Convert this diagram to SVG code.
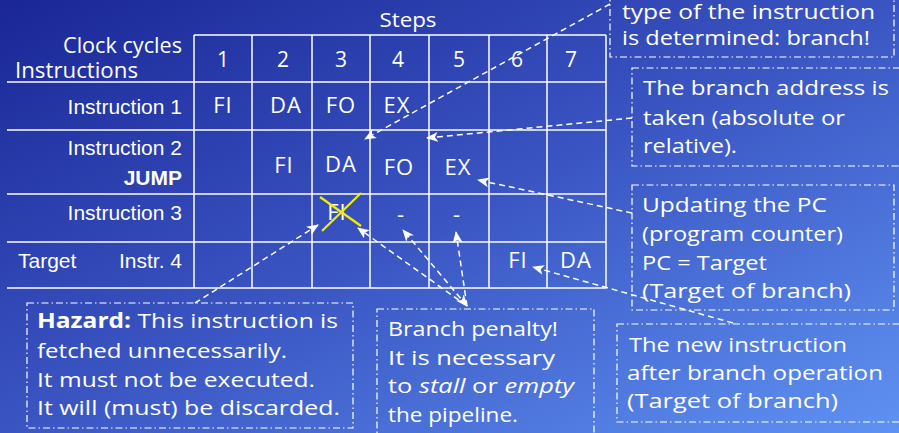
<svg xmlns="http://www.w3.org/2000/svg" width="899" height="433" viewBox="0 0 899 433">
  <defs>
    <linearGradient id="bg" x1="0" y1="0" x2="1" y2="1">
      <stop offset="0" stop-color="#1a2696"/>
      <stop offset="0.5" stop-color="#3a55c2"/>
      <stop offset="1" stop-color="#5f92f2"/>
    </linearGradient>
    <marker id="arrow" viewBox="0 0 12 10" markerUnits="userSpaceOnUse" markerWidth="12" markerHeight="10" refX="11" refY="5" orient="auto-start-reverse">
      <path d="M0,0 L12,5 L0,10 L3,5 z" fill="#ffffff"/>
    </marker>
    <style>
      .grid { stroke: #ffffff; stroke-width: 1.5; fill: none; }
      .hand { font-family: "Comic Sans MS", "Open Sans", sans-serif; fill: #ffffff; }
      .cell { font-size: 22px; text-anchor: middle; letter-spacing: 1px; }
      .num { font-size: 21px; text-anchor: middle; }
      .label { font-family: "Liberation Sans", Arial, sans-serif; font-size: 21px; fill: #ffffff; }
      .right { text-anchor: end; }
      .note { font-size: 20.5px; }
      .box { fill: none; stroke: #ffffff; stroke-width: 1.2; stroke-dasharray: 7 3 1.5 3; }
      .link { stroke: #ffffff; stroke-width: 1.5; stroke-dasharray: 6 4; fill: none; }
      .cross { stroke: #f2ee00; stroke-width: 2.2; }
    </style>
  </defs>

  <rect width="899" height="433" fill="url(#bg)"/>

  <!-- pipeline table -->
  <g id="table">
    <g class="grid">
      <line x1="194" y1="35" x2="606" y2="35"/>
      <line x1="7" y1="82" x2="606" y2="82"/>
      <line x1="7" y1="130" x2="606" y2="130"/>
      <line x1="7" y1="194" x2="606" y2="194"/>
      <line x1="7" y1="242" x2="606" y2="242"/>
      <line x1="7" y1="288" x2="606" y2="288"/>
      <line x1="194" y1="35" x2="194" y2="288"/>
      <line x1="252" y1="35" x2="252" y2="288"/>
      <line x1="312" y1="35" x2="312" y2="288"/>
      <line x1="370" y1="35" x2="370" y2="288"/>
      <line x1="429" y1="35" x2="429" y2="288"/>
      <line x1="489" y1="35" x2="489" y2="288"/>
      <line x1="547" y1="35" x2="547" y2="288"/>
      <line x1="606" y1="35" x2="606" y2="288"/>
    </g>

    <text class="hand" x="408" y="27" font-size="20" text-anchor="middle" textLength="57" lengthAdjust="spacingAndGlyphs">Steps</text>
    <text class="hand" x="182" y="53" font-size="21" text-anchor="end" textLength="119" lengthAdjust="spacingAndGlyphs">Clock cycles</text>
    <text class="hand" x="15" y="78" font-size="21" textLength="123" lengthAdjust="spacingAndGlyphs">Instructions</text>

    <g class="hand num">
      <text x="223" y="67">1</text>
      <text x="283" y="67">2</text>
      <text x="341" y="67">3</text>
      <text x="398" y="67">4</text>
      <text x="459" y="67">5</text>
      <text x="517" y="67">6</text>
      <text x="571" y="67">7</text>
    </g>

    <text class="label right" x="182" y="114">Instruction 1</text>
    <text class="label right" x="182" y="155">Instruction 2</text>
    <text class="label right" x="182" y="185" font-weight="bold" font-size="18">JUMP</text>
    <text class="label right" x="182" y="220">Instruction 3</text>
    <text class="label" x="18" y="268">Target</text>
    <text class="label right" x="182" y="268">Instr. 4</text>

    <!-- stage codes per cycle -->
    <g class="hand cell">
      <text x="223" y="113">FI</text>
      <text x="286" y="113">DA</text>
      <text x="341" y="113">FO</text>
      <text x="397" y="113">EX</text>

      <text x="284" y="173">FI</text>
      <text x="341" y="172">DA</text>
      <text x="399" y="175">FO</text>
      <text x="458" y="175">EX</text>

      <text x="337" y="220">FI</text>
      <text x="401" y="222">-</text>
      <text x="457" y="222">-</text>

      <text x="518" y="268">FI</text>
      <text x="576" y="268">DA</text>
    </g>
    <!-- discarded fetch -->
    <line class="cross" x1="320" y1="197" x2="361" y2="226"/>
    <line class="cross" x1="322" y1="231" x2="361" y2="193"/>
  </g>

  <!-- connectors -->
  <g id="connectors">
    <line class="link" x1="610" y1="4" x2="365" y2="139" marker-end="url(#arrow)"/>
    <line class="link" x1="632" y1="118" x2="427" y2="138" marker-end="url(#arrow)"/>
    <line class="link" x1="632" y1="213" x2="478" y2="180" marker-end="url(#arrow)"/>
    <line class="link" x1="733" y1="323" x2="533" y2="267" marker-end="url(#arrow)"/>
    <line class="link" x1="195" y1="303" x2="318" y2="225" marker-end="url(#arrow)"/>
    <line class="link" x1="467" y1="306" x2="358" y2="228" marker-end="url(#arrow)"/>
    <line class="link" x1="467" y1="306" x2="403" y2="230" marker-start="url(#arrow)" marker-end="url(#arrow)"/>
    <line class="link" x1="467" y1="306" x2="456" y2="232" marker-end="url(#arrow)"/>
  </g>

  <!-- callouts -->
  <g id="note-type">
    <rect class="box" x="610" y="-30" width="284" height="87"/>
    <text class="hand note" x="622" y="19" textLength="253" lengthAdjust="spacingAndGlyphs">type of the instruction</text>
    <text class="hand note" x="622" y="45" textLength="248" lengthAdjust="spacingAndGlyphs">is determined: branch!</text>
  </g>

  <g id="note-address">
    <rect class="box" x="632" y="68" width="280" height="98"/>
    <text class="hand note" x="643" y="95" textLength="246" lengthAdjust="spacingAndGlyphs">The branch address is</text>
    <text class="hand note" x="643" y="125" textLength="202" lengthAdjust="spacingAndGlyphs">taken (absolute or</text>
    <text class="hand note" x="643" y="153" textLength="94" lengthAdjust="spacingAndGlyphs">relative).</text>
  </g>

  <g id="note-pc">
    <rect class="box" x="632" y="185" width="262" height="125"/>
    <text class="hand note" x="642" y="212" textLength="185" lengthAdjust="spacingAndGlyphs">Updating the PC</text>
    <text class="hand note" x="642" y="241" textLength="201" lengthAdjust="spacingAndGlyphs">(program counter)</text>
    <text class="hand note" x="642" y="270" textLength="125" lengthAdjust="spacingAndGlyphs">PC = Target</text>
    <text class="hand note" x="642" y="298" textLength="209" lengthAdjust="spacingAndGlyphs">(Target of branch)</text>
  </g>

  <g id="note-target">
    <rect class="box" x="617" y="324" width="295" height="98"/>
    <text class="hand note" x="629" y="352" textLength="218" lengthAdjust="spacingAndGlyphs">The new instruction</text>
    <text class="hand note" x="627" y="380" textLength="256" lengthAdjust="spacingAndGlyphs">after branch operation</text>
    <text class="hand note" x="627" y="408" textLength="211" lengthAdjust="spacingAndGlyphs">(Target of branch)</text>
  </g>

  <g id="note-penalty">
    <rect class="box" x="377" y="309" width="217" height="140"/>
    <text class="hand note" x="388" y="336" textLength="170" lengthAdjust="spacingAndGlyphs">Branch penalty!</text>
    <text class="hand note" x="388" y="365" textLength="167" lengthAdjust="spacingAndGlyphs">It is necessary</text>
    <text class="hand note" x="388" y="393" textLength="186" lengthAdjust="spacingAndGlyphs">to <tspan font-style="italic">stall</tspan> or <tspan font-style="italic">empty</tspan></text>
    <text class="hand note" x="388" y="422" textLength="130" lengthAdjust="spacingAndGlyphs">the pipeline.</text>
  </g>

  <g id="note-hazard">
    <rect class="box" x="27" y="303" width="326" height="125"/>
    <text class="hand note" x="37" y="328" textLength="301" lengthAdjust="spacingAndGlyphs"><tspan font-weight="bold">Hazard:</tspan> This instruction is</text>
    <text class="hand note" x="37" y="358" textLength="250" lengthAdjust="spacingAndGlyphs">fetched unnecessarily.</text>
    <text class="hand note" x="37" y="387" textLength="278" lengthAdjust="spacingAndGlyphs">It must not be executed.</text>
    <text class="hand note" x="37" y="415" textLength="303" lengthAdjust="spacingAndGlyphs">It will (must) be discarded.</text>
  </g>
</svg>
